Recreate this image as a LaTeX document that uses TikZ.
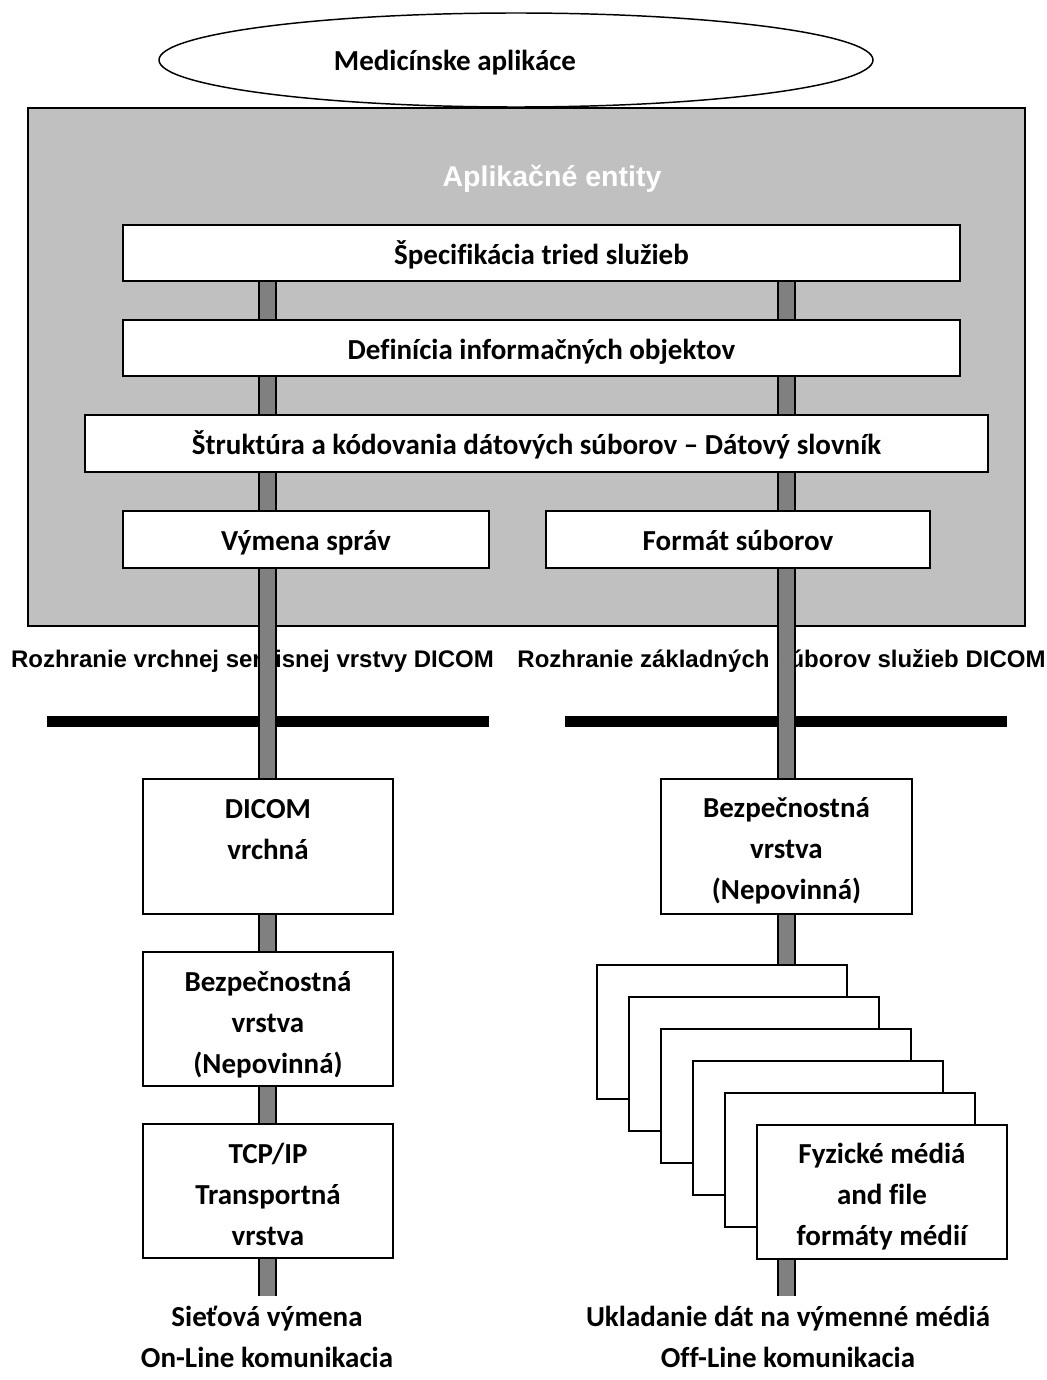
\documentclass[tikz,border=0pt]{standalone}
\usepackage{fontspec}
\setmainfont{Carlito}[Ligatures={TeX,CommonOff}]
\newfontfamily\arialfont{Liberation Sans}
\usetikzlibrary{shapes.geometric,fit}
\pgfdeclarelayer{back}
\pgfdeclarelayer{bars}
\pgfsetlayers{back,bars,main}
\definecolor{panelgray}{HTML}{C0C0C0}
\definecolor{bargray}{HTML}{808080}
\newcommand{\lines}[1]{\begin{tabular}[t]{@{}c@{}}#1\end{tabular}}

\begin{document}
\begin{tikzpicture}[x=0.75pt,y=-0.75pt,
  box/.style={draw=black,line width=1.5pt,fill=white,inner sep=0pt},
  txt/.style={font=\bfseries\fontsize{21.75}{30.75}\selectfont,inner sep=0pt,anchor=base},
  atxt/.style={font=\arialfont\bfseries\fontsize{18}{22}\selectfont,inner sep=0pt,anchor=base},
  bar/.style={draw=black,line width=1.5pt,double=bargray,double distance=11.25pt},
  rule/.style={line width=8.5pt}
]
\useasboundingbox (0,0) rectangle (1046,1380);

% ---------- background: application panel, ellipse, interface labels ----------
\begin{pgfonlayer}{back}
  \node[draw=black,line width=1.5pt,fill=panelgray,inner sep=0pt,fit={(28,108) (1025,626)}] (panel) {};
  \node[draw=black,line width=1.1pt,ellipse,inner sep=0pt,minimum width=714*0.75pt,minimum height=94*0.75pt] (app) at (516,60) {};
  \node[txt] (apptxt) at (455,71) {Medicínske aplikáce};
  \node[atxt,text=white,font=\arialfont\bfseries\fontsize{21.4}{24}\selectfont] (entity) at (552,187) {Aplikačné entity};
  \node[atxt] (ulint) at (252.5,667) {Rozhranie vrchnej servisnej vrstvy DICOM};
  \node[atxt] (basint) at (781.5,667) {Rozhranie základných súborov služieb DICOM};
  \coordinate (r1a) at (47,721.5);  \coordinate (r1b) at (489,721.5);
  \coordinate (r2a) at (565,721.5); \coordinate (r2b) at (1007,721.5);
  \draw[rule] (r1a) -- (r1b);
  \draw[rule] (r2a) -- (r2b);
\end{pgfonlayer}

% ---------- layer boxes inside the panel ----------
\node[box,fit={(123,225) (960,281)}] (spec) {};
\node[txt] (spectxt) at (541.5,264) {Špecifikácia tried služieb};
\node[box,fit={(123,320) (960,376)}] (iod) {};
\node[txt] (iodtxt) at (541.5,359) {Definícia informačných objektov};
\node[box,fit={(85,415) (988,472)}] (dict) {};
\node[txt] (dicttxt) at (536.5,454) {Štruktúra a kódovania dátových súborov – Dátový slovník};
\node[box,fit={(123,511) (489,568)}] (msg) {};
\node[txt] (msgtxt) at (306,550) {Výmena správ};
\node[box,fit={(546,511) (930,568)}] (ff) {};
\node[txt] (fftxt) at (738,550) {Formát súborov};

% ---------- network (on-line) stack ----------
\node[box,fit={(143,779) (393,914)}] (ul) {};
\node[txt] (ultxt) at (268,818) {\lines{DICOM\\vrchná}};
\node[box,fit={(143,952) (393,1086)}] (secl) {};
\node[txt] (secltxt) at (268,991) {\lines{Bezpečnostná\\vrstva\\(Nepovinná)}};
\node[box,fit={(143,1124) (393,1258)}] (tcp) {};
\node[txt] (tcptxt) at (268,1163) {\lines{TCP/IP\\Transportná\\vrstva}};

% ---------- media (off-line) stack ----------
\node[box,fit={(661,779) (912,914)}] (secr) {};
\node[txt] (secrtxt) at (786.5,817) {\lines{Bezpečnostná\\vrstva\\(Nepovinná)}};
\foreach \k in {0,...,5} {
  \node[box,fit={(597+32*\k,965+32*\k) (847+32*\k,1099+32*\k)}] (media\k) {};
}
\node[txt] (mediatxt) at (882,1163) {\lines{Fyzické médiá\\and file\\formáty médií}};

% ---------- bottom captions ----------
\node[txt] (online) at (267,1326) {\lines{Sieťová výmena\\On-Line komunikacia}};
\node[txt] (offline) at (788,1326) {\lines{Ukladanie dát na výmenné médiá\\Off-Line komunikacia}};

% ---------- vertical service bars ----------
\coordinate (lx) at (267.8,0);
\coordinate (rx) at (786.5,0);
\coordinate (lend) at (267.8,1296);
\coordinate (rend) at (786.5,1296);
\begin{pgfonlayer}{bars}
  \draw[bar] (spec.south -| lx) -- (lend);
  \draw[bar] (spec.south -| rx) -- (rend);
\end{pgfonlayer}
\end{tikzpicture}
\end{document}
